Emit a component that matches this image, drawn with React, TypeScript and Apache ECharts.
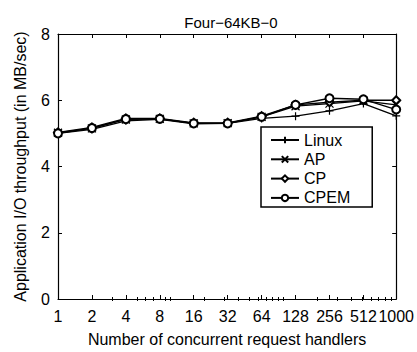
import React, { useEffect, useRef } from "react";
import * as echarts from "echarts";

const title = "Four\u221264KB\u22120";
const xName = "Number of concurrent request handlers";
const yName = "Application I/O throughput (in MB/sec)";
const handlers = [1, 2, 4, 8, 16, 32, 64, 128, 256, 512, 1000];
const minorTickValues = [3, 5, 6, 7, 9, 10, 20, 30, 40, 50, 60, 70, 80, 90, 100, 200, 300, 400, 500, 600, 700, 800, 900];
const seriesNames = ["Linux", "AP", "CP", "CPEM"];
const linux = [5.0, 5.12, 5.38, 5.42, 5.29, 5.3, 5.45, 5.52, 5.68, 5.9, 5.53];
const ap = [5.02, 5.15, 5.42, 5.44, 5.3, 5.31, 5.5, 5.82, 5.9, 5.98, 5.86];
const cp = [5.03, 5.18, 5.45, 5.45, 5.32, 5.32, 5.52, 5.86, 5.94, 6.0, 6.0];
const cpem = [5.0, 5.16, 5.43, 5.44, 5.3, 5.3, 5.5, 5.86, 6.06, 6.03, 5.72];
const yTicks = [0, 2, 4, 6, 8];

const FONT = "Liberation Sans, Arial, sans-serif";

const symbols = [
  "path://M0 5L10 5M5 0L5 10",
  "path://M1 1L9 9M1 9L9 1",
  "emptyDiamond",
  "emptyCircle",
];

export default function App() {
  const ref = useRef<HTMLDivElement>(null);
  useEffect(() => {
    if (!ref.current) return;
    const chart = echarts.init(ref.current, undefined, { renderer: "svg" });
    const lx = handlers.map((h) => Math.log2(h));
    const xmax = Math.log2(1000);
    const majors = lx;
    const minors = minorTickValues.map((v) => Math.log2(v));
    const values = [linux, ap, cp, cpem];
    const baseX = {
      type: "value",
      min: 0,
      max: xmax,
      gridIndex: 0,
      splitLine: { show: false },
    };
    chart.setOption({
      animation: false,
      backgroundColor: "#fff",
      title: {
        text: title,
        left: 226,
        textAlign: "center",
        top: 10,
        textStyle: { fontFamily: FONT, fontSize: 15, fontWeight: "normal", color: "#000" },
      },
      grid: { left: 58, right: 20, top: 34, bottom: 51, containLabel: false, show: false },
      legend: {
        orient: "vertical",
        left: 261,
        top: 127,
        data: seriesNames,
        backgroundColor: "#fff",
        borderColor: "#000",
        borderWidth: 1.5,
        borderRadius: 0,
        padding: [5, 22, 1, 9],
        itemWidth: 28,
        itemHeight: 8,
        itemGap: 3.3,
        textStyle: { fontFamily: FONT, fontSize: 16, color: "#000" },
      },
      xAxis: [
        {
          ...baseX,
          position: "bottom",
          name: xName,
          nameLocation: "middle",
          nameGap: 32,
          nameTextStyle: { fontFamily: FONT, fontSize: 16, color: "#000" },
          axisLine: { show: true, onZero: false, lineStyle: { color: "#000", width: 1.2 } },
          axisTick: { show: true, inside: true, length: 4, customValues: majors, lineStyle: { color: "#000" } },
          axisLabel: {
            customValues: majors,
            formatter: (v: number) => String(Math.round(Math.pow(2, v))),
            margin: 9,
            fontFamily: FONT,
            fontSize: 16,
            color: "#000",
            showMinLabel: true,
            showMaxLabel: true,
            hideOverlap: false,
          },
        },
        {
          ...baseX,
          position: "bottom",
          axisLine: { show: false },
          axisTick: { show: true, inside: true, length: 2, customValues: minors, lineStyle: { color: "#000" } },
          axisLabel: { show: false },
        },
        {
          ...baseX,
          position: "top",
          axisLine: { show: true, onZero: false, lineStyle: { color: "#000", width: 1.2 } },
          axisTick: { show: true, inside: true, length: 4, customValues: majors, lineStyle: { color: "#000" } },
          axisLabel: { show: false },
        },
        {
          ...baseX,
          position: "top",
          axisLine: { show: false },
          axisTick: { show: true, inside: true, length: 2, customValues: minors, lineStyle: { color: "#000" } },
          axisLabel: { show: false },
        },
      ],
      yAxis: [
        {
          type: "value",
          min: 0,
          max: 8,
          interval: 2,
          position: "left",
          name: yName,
          nameLocation: "middle",
          nameGap: 30,
          nameTextStyle: { fontFamily: FONT, fontSize: 16, color: "#000" },
          axisLine: { show: true, onZero: false, lineStyle: { color: "#000", width: 1.2 } },
          axisTick: { show: true, inside: true, length: 4, customValues: yTicks, lineStyle: { color: "#000" } },
          axisLabel: { margin: 8, fontFamily: FONT, fontSize: 16, color: "#000" },
          splitLine: { show: false },
        },
        {
          type: "value",
          min: 0,
          max: 8,
          interval: 2,
          position: "right",
          axisLine: { show: true, onZero: false, lineStyle: { color: "#000", width: 1.2 } },
          axisTick: { show: true, inside: true, length: 4, lineStyle: { color: "#000" } },
          axisLabel: { show: false },
          splitLine: { show: false },
        },
      ],
      series: seriesNames.map((name, i) => ({
        name,
        type: "line",
        xAxisIndex: 0,
        yAxisIndex: 0,
        data: values[i].map((v, j) => [lx[j], v]),
        symbol: symbols[i],
        symbolSize: i < 2 ? 8 : 8,
        showAllSymbol: true,
        lineStyle: { color: "#000", width: 1.3 },
        itemStyle: { color: "#000", borderColor: "#000", borderWidth: 1.2 },
        emphasis: { disabled: true },
      })),
    });
    return () => chart.dispose();
  }, []);
  return <div ref={ref} style={{ width: 417, height: 352, position: "absolute", left: 0, top: 0 }} />;
}
